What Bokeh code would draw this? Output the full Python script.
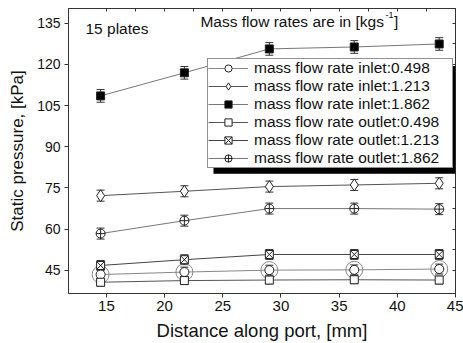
from bokeh.plotting import figure
from bokeh.models import (ColumnDataSource, Whisker, TeeHead, Legend, LegendItem,
                          LinearAxis, BoxAnnotation, Label, Range1d, FixedTicker)
from bokeh.embed import file_html
from bokeh.resources import INLINE

# ---- data ----
distance = [14.5, 21.7, 29.0, 36.3, 43.6]
inlet_0498 = [43.5, 44.4, 45.1, 45.2, 45.5]
inlet_1213 = [72.2, 73.8, 75.5, 76.1, 76.7]
inlet_1862 = [108.5, 116.9, 125.6, 126.3, 127.4]
outlet_0498 = [40.7, 41.3, 41.5, 41.6, 41.5]
outlet_1213 = [46.8, 48.9, 50.8, 50.8, 50.8]
outlet_1862 = [58.4, 63.1, 67.5, 67.5, 67.3]
err_inlet_0498 = [1.8, 1.8, 1.8, 1.8, 1.8]
err_inlet_1213 = [2.0, 2.0, 2.0, 2.0, 2.0]
err_inlet_1862 = [2.3, 2.3, 2.3, 2.3, 2.3]
err_outlet_0498 = [1.4, 1.4, 1.4, 1.4, 1.4]
err_outlet_1213 = [1.8, 1.8, 1.8, 1.8, 1.8]
err_outlet_1862 = [2.0, 2.0, 2.0, 2.0, 2.0]
series_labels = ["mass flow rate inlet:0.498", "mass flow rate inlet:1.213",
                 "mass flow rate inlet:1.862", "mass flow rate outlet:0.498",
                 "mass flow rate outlet:1.213", "mass flow rate outlet:1.862"]
x_ticks = [15, 20, 25, 30, 35, 40, 45]
y_ticks = [45, 60, 75, 90, 105, 120, 135]

FONT = "Liberation Sans"
TXT = "#111111"
AX = "#333333"

p = figure(width=463, height=343, output_backend="svg", toolbar_location=None,
           x_range=Range1d(11.74, 45.0), y_range=Range1d(36.6, 140.3),
           min_border_left=68, min_border_right=8, min_border_top=8,
           min_border_bottom=50)
p.grid.visible = False
p.outline_line_color = AX
p.background_fill_color = "white"
p.border_fill_color = "white"

for ax in (p.xaxis[0], p.yaxis[0]):
    ax.ticker.num_minor_ticks = 2
    ax.major_tick_out = 4
    ax.major_tick_in = 0
    ax.minor_tick_out = 2
    ax.minor_tick_in = 0
    ax.axis_line_color = AX
    ax.major_tick_line_color = AX
    ax.minor_tick_line_color = AX
    ax.major_label_text_font = FONT
    ax.major_label_text_color = TXT
    ax.axis_label_text_font = FONT
    ax.axis_label_text_font_style = "normal"
    ax.axis_label_text_color = TXT
p.xaxis.ticker = x_ticks
p.yaxis.ticker = y_ticks
p.xaxis.major_label_text_font_size = "15px"
p.yaxis.major_label_text_font_size = "14px"
p.xaxis.axis_label_text_font_size = "18.5px"
p.yaxis.axis_label_text_font_size = "17px"
p.xaxis.axis_label = "Distance along port, [mm]"
p.yaxis.axis_label = "Static pressure, [kPa]"
p.xaxis.major_label_standoff = 3
p.yaxis.major_label_standoff = 4
p.xaxis.axis_label_standoff = 6
p.yaxis.axis_label_standoff = 7

# mirrored axes: inward ticks only, no labels
def mid(ticks):
    return [(a + b) / 2 for a, b in zip(ticks[:-1], ticks[1:])]

top = LinearAxis(ticker=FixedTicker(ticks=[], minor_ticks=x_ticks + mid(x_ticks)),
                 minor_tick_in=3, minor_tick_out=0, major_tick_in=0, major_tick_out=0,
                 axis_line_color=AX, minor_tick_line_color=AX)
right = LinearAxis(ticker=FixedTicker(ticks=[], minor_ticks=y_ticks + mid(y_ticks)),
                   minor_tick_in=3, minor_tick_out=0, major_tick_in=0, major_tick_out=0,
                   axis_line_color=AX, minor_tick_line_color=AX)
p.add_layout(top, "above")
p.add_layout(right, "right")


def add_series(values, errs, line_color, marker, size, fill):
    src = ColumnDataSource(dict(x=distance, y=values,
                                lo=[v - e for v, e in zip(values, errs)],
                                hi=[v + e for v, e in zip(values, errs)]))
    ln = p.line("x", "y", source=src, line_color=line_color, line_width=1)
    w = Whisker(source=src, base="x", lower="lo", upper="hi",
                line_color="#333333", line_width=1,
                upper_head=TeeHead(size=8, line_color="#333333", line_width=1),
                lower_head=TeeHead(size=8, line_color="#333333", line_width=1))
    p.add_layout(w)
    mk = p.scatter("x", "y", source=src, marker=marker, size=size,
                   fill_color=fill, line_color="#222222", line_width=1)
    return [ln, mk], src


r1, s1 = add_series(inlet_0498, err_inlet_0498, "#888888", "circle", 9, "white")
# faint outer ring seen around the inlet 0.498 markers
p.scatter("x", "y", source=s1, marker="circle", size=17, fill_color=None,
          line_color="#888888", line_width=1)
r2, _ = add_series(inlet_1213, err_inlet_1213, "#555555", "diamond", 12, "white")
r3, _ = add_series(inlet_1862, err_inlet_1862, "#777777", "square", 8, "black")
r4, _ = add_series(outlet_0498, err_outlet_0498, "#555555", "square", 8, "white")
r5, _ = add_series(outlet_1213, err_outlet_1213, "#444444", "square_x", 8, "white")
r6, _ = add_series(outlet_1862, err_outlet_1862, "#777777", "circle_cross", 9, "white")

# legend shadow
p.add_layout(BoxAnnotation(left=24.2, right=45.0, top=119.4, bottom=80.2,
                           fill_color="black", fill_alpha=1.0, line_color=None,
                           level="overlay"))

legend = Legend(items=[LegendItem(label=l, renderers=r) for l, r in
                       zip(series_labels, [r1, r2, r3, r4, r5, r6])],
                location=(139, 125), margin=0, padding=0, spacing=0,
                glyph_width=40, glyph_height=18, label_height=18, label_width=198,
                label_standoff=6, label_text_font=FONT,
                label_text_font_size="15.5px", label_text_color=TXT,
                border_line_color="#222222", border_line_width=1,
                background_fill_color="white", background_fill_alpha=1.0)
p.add_layout(legend, "center")

p.add_layout(Label(x=13.2, y=133.2, text="15 plates", text_font=FONT,
                   text_font_size="15.5px", text_baseline="middle", text_color=TXT))
p.add_layout(Label(x=23.08, y=135.6, text="Mass flow rates are in [kgs", text_font=FONT,
                   text_font_size="15.5px", text_baseline="middle", text_color=TXT))
p.add_layout(Label(x=38.98, y=138.0, text="-1", text_font=FONT,
                   text_font_size="9px", text_baseline="middle", text_color=TXT))
p.add_layout(Label(x=39.71, y=135.6, text="]", text_font=FONT,
                   text_font_size="15.5px", text_baseline="middle", text_color=TXT))

open("out.html", "w").write(file_html(p, INLINE))
